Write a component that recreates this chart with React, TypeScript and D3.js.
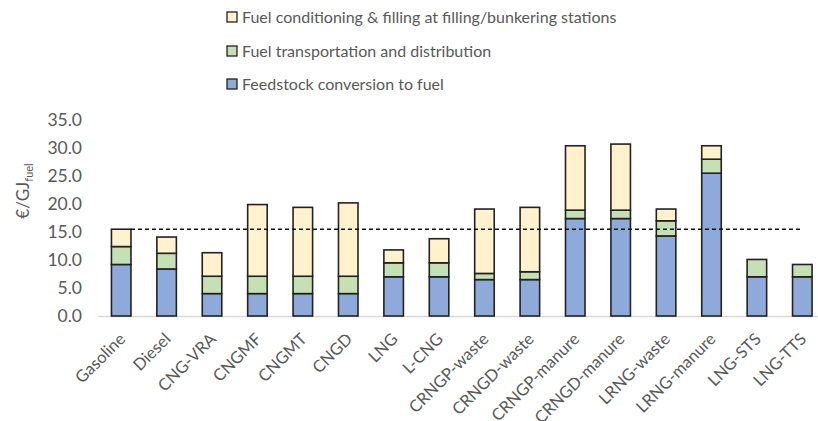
import React from "react";
import * as d3 from "d3";

const categories = [
  "Gasoline", "Diesel", "CNG-VRA", "CNGMF", "CNGMT", "CNGD", "LNG", "L-CNG",
  "CRNGP-waste", "CRNGD-waste", "CRNGP-manure", "CRNGD-manure", "LRNG-waste",
  "LRNG-manure", "LNG-STS", "LNG-TTS",
];
const feedstock = [9.2, 8.4, 4.0, 4.0, 4.0, 4.0, 7.0, 7.0, 6.5, 6.5, 17.4, 17.4, 14.3, 25.5, 7.0, 7.0];
const transport = [3.2, 2.8, 3.1, 3.1, 3.1, 3.1, 2.5, 2.5, 1.1, 1.4, 1.5, 1.5, 2.7, 2.5, 3.1, 2.2];
const conditioning = [3.1, 2.9, 4.2, 12.8, 12.3, 13.1, 2.3, 4.3, 11.5, 11.5, 11.5, 11.8, 2.1, 2.4, 0, 0];
const yTicks = [0, 5, 10, 15, 20, 25, 30, 35];
const referenceValue = 15.5;

const seriesNames = [
  "Feedstock conversion to fuel",
  "Fuel transportation and distribution",
  "Fuel conditioning & filling at filling/bunkering stations",
];
const seriesColors = ["#8eaadb", "#c5e0b3", "#fff2cc"];

export default function App() {
  const W = 818, H = 421;
  const x = d3.scaleBand<string>().domain(categories).range([98.5, 825]).paddingInner(0.57).paddingOuter(0.285);
  const y = d3.scaleLinear().domain([0, 35]).range([316, 120]);
  const rows = categories.map((c, i) => ({ c, feedstock: feedstock[i], transport: transport[i], conditioning: conditioning[i] }));
  const stack = d3.stack<any>().keys(["feedstock", "transport", "conditioning"])(rows);
  const font = "Lato, 'Open Sans', sans-serif";
  const textColor = "#595959";
  const legendOrder = [2, 1, 0];
  const legendY = [17, 51, 84];

  return (
    <svg width={W} height={H} style={{ position: "absolute", left: 0, top: 0, background: "#fff" }}>
      <rect x={0} y={0} width={W} height={H} fill="#fff" />
      {/* legend */}
      {legendOrder.map((si, k) => (
        <g key={si}>
          <rect x={227} y={legendY[k] - 5} width={10} height={10} fill={seriesColors[si]} stroke="#222" strokeWidth={1.3} />
          <text x={242} y={legendY[k]} dy="0.35em" fontFamily={font} fontSize={16} fill={textColor}>
            {seriesNames[si]}
          </text>
        </g>
      ))}
      {/* y ticks */}
      {yTicks.map((t) => (
        <text key={t} x={82} y={y(t)} dy="0.36em" textAnchor="end" fontFamily={font} fontSize={17.5} fill={textColor}>
          {t.toFixed(1)}
        </text>
      ))}
      {/* y title */}
      <text transform={`translate(29, 191) rotate(-90)`} textAnchor="middle" fontFamily={font} fontSize={17} fill={textColor}>
        €/GJ<tspan fontSize={11} dy={4}>fuel</tspan>
      </text>
      {/* x axis line */}
      <line x1={98.5} x2={818} y1={y(0) + 0.5} y2={y(0) + 0.5} stroke="#d9d9d9" strokeWidth={1.5} />
      {/* bars */}
      {stack.map((s, si) => (
        <g key={si}>
          {s.map((d, i) =>
            d[1] - d[0] > 0 ? (
              <rect
                key={i}
                x={x(categories[i])!}
                y={y(d[1])}
                width={x.bandwidth()}
                height={y(d[0]) - y(d[1])}
                fill={seriesColors[si]}
                stroke="#222"
                strokeWidth={1.6}
              />
            ) : null
          )}
        </g>
      ))}
      {/* reference line */}
      <line
        x1={x(categories[0])! + x.bandwidth()}
        x2={x(categories[categories.length - 1])! + x.bandwidth() / 2}
        y1={y(referenceValue)}
        y2={y(referenceValue)}
        stroke="#111"
        strokeWidth={1.4}
        strokeDasharray="4,3"
      />
      {/* x labels */}
      {categories.map((c) => (
        <text
          key={c}
          transform={`translate(${x(c)! + x.bandwidth() / 2 + 1}, 336) rotate(-45)`}
          textAnchor="end"
          dy="0.35em"
          fontFamily={font}
          fontSize={16.5}
          fill={textColor}
        >
          {c}
        </text>
      ))}
    </svg>
  );
}
